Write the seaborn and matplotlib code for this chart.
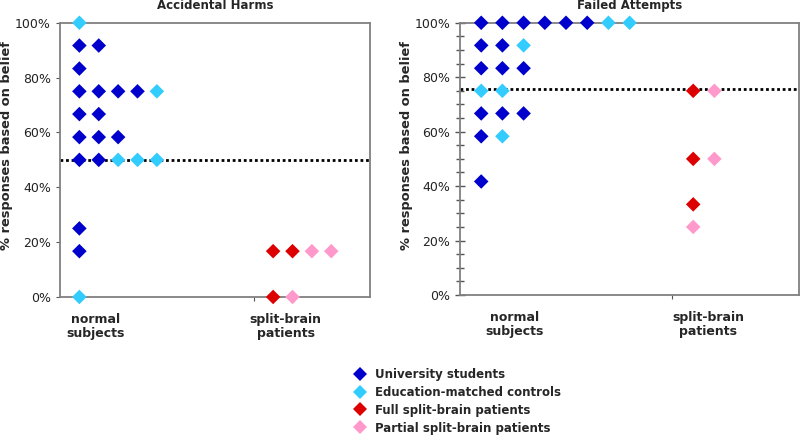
import numpy as np
import pandas as pd
import matplotlib
matplotlib.use("Agg")
import matplotlib.pyplot as plt
import seaborn as sns
from matplotlib.ticker import MultipleLocator, PercentFormatter
from matplotlib.lines import Line2D

sns.set_style("white")
plt.rcParams["font.family"] = ["DejaVu Sans"]

# groups and colours
grupos = ["University students", "Education-matched controls",
          "Full split-brain patients", "Partial split-brain patients"]
colores = ["#0000CC", "#33CCFF", "#DD0000", "#FF99CC"]
categoria_grupo = ["normal", "normal", "split", "split"]

# Accidental Harms (% responses based on belief)
ah_univ = [91.7, 91.7, 83.3, 75, 75, 75, 75, 66.7, 66.7, 58.3, 58.3, 58.3, 50, 50, 25, 16.7]
ah_edu = [100, 75, 50, 50, 50, 0]
ah_full = [16.7, 16.7, 0]
ah_partial = [16.7, 16.7, 0]
ah_umbral = 50

# Failed Attempts
fa_univ = [100, 100, 100, 100, 100, 100, 91.7, 91.7, 83.3, 83.3, 83.3, 66.7, 66.7, 66.7, 58.3, 41.7]
fa_edu = [100, 100, 91.7, 75, 75, 58.3]
fa_full = [75, 50, 33.3]
fa_partial = [75, 50, 25]
fa_umbral = 75.8

paneles = [
    ("Accidental Harms", [ah_univ, ah_edu, ah_full, ah_partial], ah_umbral),
    ("Failed Attempts", [fa_univ, fa_edu, fa_full, fa_partial], fa_umbral),
]

inicio_categoria = {"normal": 1, "split": 11}


def apilar(series):
    # dot plot: each point goes to the next free column of its category/value row
    filas = []
    ocupado = {}
    for grupo, cat, valores in zip(grupos, categoria_grupo, series):
        for v in valores:
            clave = (cat, v)
            n = ocupado.get(clave, 0)
            ocupado[clave] = n + 1
            filas.append({"x": inicio_categoria[cat] + n, "y": v, "grupo": grupo})
    return pd.DataFrame(filas)


fig = plt.figure(figsize=(8, 4.38), dpi=100)
ax1 = fig.add_axes([0.075, 0.322, 0.3875, 0.626])
ax2 = fig.add_axes([0.575, 0.3265, 0.424, 0.6215])

posiciones_etiquetas = [(1.85, 11.65), (2.57, 11.7)]
posiciones_ylabel = [(-0.152, 0.554), (-0.139, 0.551)]

for i, (ax, (titulo, series, umbral)) in enumerate(zip([ax1, ax2], paneles)):
    df = apilar(series)
    ax.axhline(umbral, color="black", linestyle=(0, (1, 1)), linewidth=2, zorder=1)
    sns.scatterplot(data=df, x="x", y="y", hue="grupo", hue_order=grupos,
                    palette=colores, marker="D", s=55, linewidth=0,
                    legend=False, ax=ax, zorder=3, clip_on=False)
    ax.set_xlim(0, 16)
    ax.set_ylim(0, 100)
    ax.set_xticks([10])
    ax.set_xticklabels([])
    ax.set_xlabel("")
    ax.yaxis.set_major_locator(MultipleLocator(20))
    ax.yaxis.set_major_formatter(PercentFormatter(decimals=0))
    ax.set_ylabel("% responses based on belief", fontsize=9.4, fontweight="bold")
    ax.yaxis.set_label_coords(*posiciones_ylabel[i])
    ax.set_title(titulo, fontsize=8.5, fontweight="bold", pad=10)
    for s in ax.spines.values():
        s.set_color("#808080")
        s.set_linewidth(1.3)
        s.set_visible(True)
    ax.tick_params(axis="y", labelsize=9, colors="#222222", labelcolor="#222222")
    ax.tick_params(axis="x", length=3, color="#555555", direction="out", bottom=True)
    if i == 0:
        ax.tick_params(axis="y", length=3, direction="out", left=True, color="#555555")
    else:
        ax.yaxis.set_minor_locator(MultipleLocator(5))
        ax.tick_params(axis="y", which="both", direction="inout", left=True,
                       color="#555555", width=1)
        ax.tick_params(axis="y", which="major", length=7)
        ax.tick_params(axis="y", which="minor", length=6)
    xn, xs = posiciones_etiquetas[i]
    trans = ax.get_xaxis_transform()
    ax.text(xn, -0.06, "normal\nsubjects", transform=trans, ha="center", va="top",
            fontsize=9, fontweight="bold", linespacing=1.1)
    ax.text(xs, -0.06, "split-brain\npatients", transform=trans, ha="center", va="top",
            fontsize=9, fontweight="bold", linespacing=1.1)

manejadores = [Line2D([0], [0], marker="D", linestyle="none", markersize=7,
                      markerfacecolor=c, markeredgewidth=0) for c in colores]
fig.legend(manejadores, grupos, loc="upper left", bbox_to_anchor=(0.435, 0.174),
           frameon=False, prop={"size": 8.5, "weight": "bold"},
           handletextpad=0.8, labelspacing=0.42, handlelength=1.0, borderpad=0)

fig.savefig("out.png", dpi=100)
